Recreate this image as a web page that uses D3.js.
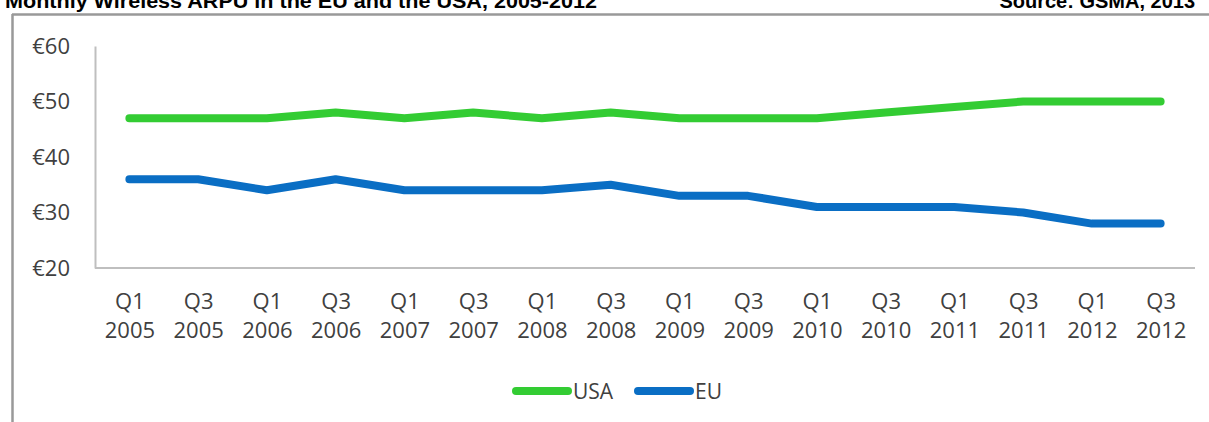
<!DOCTYPE html>
<html><head><meta charset="utf-8">
<script src="https://cdn.jsdelivr.net/npm/d3@7"></script>
<style>body{margin:0;background:#fff;}svg{display:block;}</style>
</head><body>
<svg id="c" width="1209" height="422"></svg>
<script>
const categories = ["Q1 2005","Q3 2005","Q1 2006","Q3 2006","Q1 2007","Q3 2007","Q1 2008","Q3 2008","Q1 2009","Q3 2009","Q1 2010","Q3 2010","Q1 2011","Q3 2011","Q1 2012","Q3 2012"];
const usa = [47,47,47,48,47,48,47,48,47,47,47,48,49,50,50,50];
const eu  = [36,36,34,36,34,34,34,35,33,33,31,31,31,30,28,28];
const yTicks = [20,30,40,50,60];
const seriesNames = ["USA","EU"];
const colors = ["#33cc33","#0a6ec4"];

const svg = d3.select("#c");
// title & source
svg.append("text").attr("x",5).attr("y",8).attr("font-family","Liberation Sans, Arial").attr("font-weight","bold").attr("font-size",20).attr("textLength",592).attr("lengthAdjust","spacingAndGlyphs").attr("fill","#000").text("Monthly Wireless ARPU in the EU and the USA, 2005-2012");
svg.append("text").attr("x",1195).attr("y",8).attr("text-anchor","end").attr("font-family","Liberation Sans, Arial").attr("font-weight","bold").attr("font-size",20).attr("fill","#000").text("Source: GSMA, 2013");
// frame
svg.append("line").attr("x1",12).attr("x2",1209).attr("y1",14.5).attr("y2",14.5).attr("stroke","#999").attr("stroke-width",2.5);
svg.append("line").attr("x1",12.5).attr("x2",12.5).attr("y1",14).attr("y2",422).attr("stroke","#999").attr("stroke-width",2.5);

const x = d3.scalePoint().domain(categories).range([95,1195]).padding(0.5);
const y = d3.scaleLinear().domain([20,60]).range([268,46]);

// y axis
const ya = svg.append("g").attr("transform","translate(95,0)")
  .call(d3.axisLeft(y).tickValues(yTicks).tickSize(0).tickPadding(25).tickFormat(d=>"€"+d));
ya.select(".domain").attr("stroke","#bfbfbf").attr("stroke-width",2);
ya.selectAll("text").attr("font-family","Open Sans").attr("font-size",22).attr("fill","#404040");

// x axis
const xa = svg.append("g").attr("transform","translate(0,268)")
  .call(d3.axisBottom(x).tickSize(0).tickPadding(0).tickFormat(""));
xa.select(".domain").attr("stroke","#bfbfbf").attr("stroke-width",2).attr("d","M95,0H1195");
xa.selectAll(".tick").each(function(d){
  const parts = d.split(" ");
  const t = d3.select(this).append("text").attr("fill","#404040").attr("font-family","Open Sans").attr("font-size",22).attr("text-anchor","middle");
  t.append("tspan").attr("x",0).attr("y",41).text(parts[0]);
  t.append("tspan").attr("x",0).attr("y",70).text(parts[1]);
});

const line = d3.line().x((d,i)=>x(categories[i])).y(d=>y(d));
[usa,eu].forEach((s,k)=>{
  svg.append("path").datum(s).attr("d",line).attr("fill","none").attr("stroke",colors[k]).attr("stroke-width",8).attr("stroke-linecap","round").attr("stroke-linejoin","round");
});

// legend
const legX = [516,638];
seriesNames.forEach((n,k)=>{
  svg.append("line").attr("x1",legX[k]).attr("x2",legX[k]+52).attr("y1",391).attr("y2",391).attr("stroke",colors[k]).attr("stroke-width",8).attr("stroke-linecap","round");
  svg.append("text").attr("x",legX[k]+57).attr("y",399).attr("font-family","Open Sans").attr("font-size",21).attr("fill","#404040").text(n);
});
</script>
</body></html>
